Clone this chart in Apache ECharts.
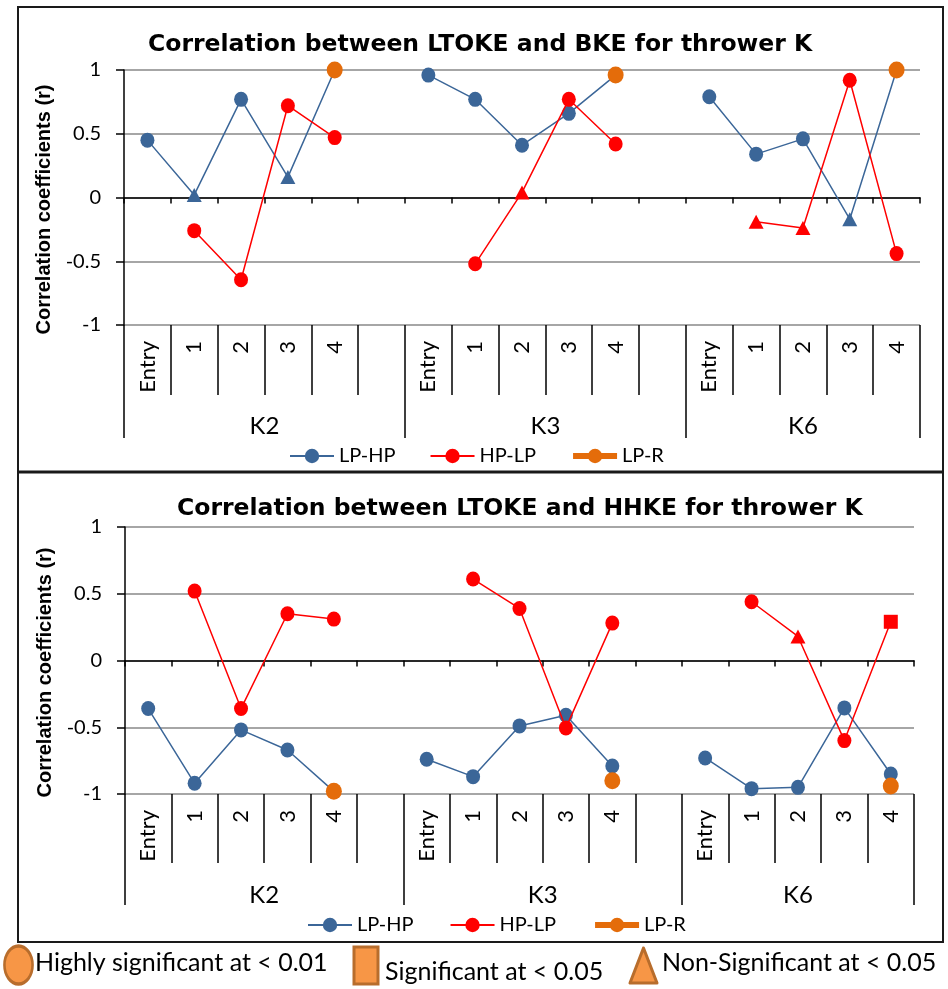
<!DOCTYPE html>
<html>
<head>
<meta charset="utf-8">
<script src="https://cdn.jsdelivr.net/npm/echarts@6/dist/echarts.min.js"></script>
<style>
html,body{margin:0;padding:0;background:#fff;}
#chart{width:948px;height:989px;}
</style>
</head>
<body>
<div id="chart"></div>
<script>
// ---------- data ----------
const categories = ['Entry','1','2','3','4','', 'Entry','1','2','3','4','', 'Entry','1','2','3','4'];
const groupLabels = ['K2','K3','K6'];
const seriesNames = ['LP-HP','HP-LP','LP-R'];
const titleTop = 'Correlation between LTOKE and BKE for thrower K';
const titleBottom = 'Correlation between LTOKE and HHKE for thrower K';
const yAxisName = 'Correlation coefficients (r)';

// Top chart (BKE)
const bkeLPHP = [0.45, 0.02, 0.77, 0.16, 1.00, null, 0.96, 0.77, 0.41, 0.66, 0.96, null, 0.79, 0.34, 0.46, -0.17, 1.00];
const bkeHPLP = [null, -0.26, -0.645, 0.72, 0.47, null, null, -0.52, 0.04, 0.77, 0.42, null, null, -0.19, -0.24, 0.92, -0.44];
const bkeLPR  = [null, null, null, null, 1.00, null, null, null, null, null, 0.96, null, null, null, null, null, 1.00];
// significance: H = highly significant (<0.01), S = significant (<0.05), N = non-significant
const bkeLPHPsig = ['H','N','H','N','H','', 'H','H','H','H','H','', 'H','H','H','N','H'];
const bkeHPLPsig = ['','H','H','H','H','', '','H','N','H','H','', '','N','N','H','H'];

// Bottom chart (HHKE)
const hhkeLPHP = [-0.36, -0.92, -0.52, -0.67, -0.98, null, -0.74, -0.87, -0.49, -0.41, -0.79, null, -0.73, -0.96, -0.95, -0.355, -0.85];
const hhkeHPLP = [null, 0.52, -0.36, 0.35, 0.31, null, null, 0.61, 0.39, -0.505, 0.28, null, null, 0.44, 0.18, -0.60, 0.29];
const hhkeLPR  = [null, null, null, null, -0.98, null, null, null, null, null, -0.90, null, null, null, null, null, -0.94];
const hhkeLPHPsig = ['H','H','H','H','H','', 'H','H','H','H','H','', 'H','H','H','H','H'];
const hhkeHPLPsig = ['','H','H','H','H','', '','H','H','H','H','', '','H','N','H','S'];

const sigLegend = ['Highly significant at < 0.01', 'Significant at < 0.05', 'Non-Significant at < 0.05'];

// ---------- styling ----------
const BLUE = '#3B6698', RED = '#FF0000', ORANGE = '#E46C0A';
const CAL = 'Lato';
const symOf = {H:'circle', S:'rect', N:'triangle'};
const sizeOf = {H:[14,15], S:[14,14], N:[15,14]};

function pts(vals, sig){
  return vals.map((v,i)=>{
    const s = (sig && sig[i]) ? sig[i] : 'H';
    return {value: v, symbol: symOf[s], symbolSize: sizeOf[s]};
  });
}

// group axis: 35 half-steps (boundaryGap false)
const groupAxisData = [];
for (let j=0;j<35;j++) groupAxisData.push('');
groupAxisData[6] = groupLabels[0];
groupAxisData[18] = groupLabels[1];
groupAxisData[29] = groupLabels[2];
const groupTicks = [0,12,24,34];

function xAxesFor(g, sepLen, grpLen){
  return [
    { // axis line at zero with short ticks
      type:'category', gridIndex:g, data:categories, position:'bottom',
      axisLine:{onZero:true, lineStyle:{color:'#000', width:1.5}},
      axisTick:{show:true, interval:0, length:6, lineStyle:{color:'#000', width:1.5}},
      axisLabel:{show:false}, splitLine:{show:false}
    },
    { // category labels with separators
      type:'category', gridIndex:g, data:categories, position:'bottom',
      axisLine:{show:false, onZero:false},
      axisTick:{show:true, interval:0, length:sepLen, lineStyle:{color:'#000', width:1.5}},
      axisLabel:{show:true, interval:0, rotate:90, margin:16, fontFamily:CAL, fontSize:22, color:'#000'},
      splitLine:{show:false}
    },
    { // group labels
      type:'category', gridIndex:g, data:groupAxisData, boundaryGap:false, position:'bottom',
      axisLine:{show:false, onZero:false},
      axisTick:{show:true, interval:(i)=>groupTicks.indexOf(i)>=0, length:grpLen, lineStyle:{color:'#000', width:1.5}},
      axisLabel:{show:true, interval:0, margin:101, verticalAlign:'middle', fontFamily:CAL, fontSize:24, color:'#000'},
      splitLine:{show:false}
    }
  ];
}

function yAxisFor(g){
  return {
    type:'value', gridIndex:g, min:-1, max:1, interval:0.5,
    axisLine:{show:true, lineStyle:{color:'#000', width:1.5}},
    axisTick:{show:true, length:8, lineStyle:{color:'#000', width:1.5}},
    axisLabel:{margin:23, fontFamily:CAL, fontSize:20, color:'#000'},
    splitLine:{show:true, lineStyle:{color:'#A6A6A6', width:2}},
    name:yAxisName, nameLocation:'middle', nameGap:70,
    nameTextStyle:{fontFamily:'Liberation Sans', fontWeight:'bold', fontSize:20, color:'#000', padding:[0,24,0,0]}
  };
}

function seriesFor(g, lphp, lphpSig, hplp, hplpSig, lpr){
  const xi = g*3, yi = g;
  return [
    {name:seriesNames[0], type:'line', xAxisIndex:xi, yAxisIndex:yi, data:pts(lphp, lphpSig),
     color:BLUE, lineStyle:{color:BLUE, width:1.5}, itemStyle:{color:BLUE}, symbol:'circle', symbolSize:14,
     showAllSymbol:true, connectNulls:false, animation:false, z:2},
    {name:seriesNames[1], type:'line', xAxisIndex:xi, yAxisIndex:yi, data:pts(hplp, hplpSig),
     color:RED, lineStyle:{color:RED, width:1.5}, itemStyle:{color:RED}, symbol:'circle', symbolSize:14,
     showAllSymbol:true, connectNulls:false, animation:false, z:3},
    {name:seriesNames[2], type:'line', xAxisIndex:xi, yAxisIndex:yi,
     data:lpr.map(v=>({value:v, symbol:'circle', symbolSize:[16,17]})),
     color:ORANGE, lineStyle:{color:ORANGE, width:5}, itemStyle:{color:ORANGE}, symbol:'circle', symbolSize:16,
     showAllSymbol:true, connectNulls:false, animation:false, z:4}
  ];
}

const legendData = [
  {name:seriesNames[0], lineStyle:{width:2}},
  {name:seriesNames[1], lineStyle:{width:2}},
  {name:seriesNames[2], lineStyle:{width:6}}
];

const chart = echarts.init(document.getElementById('chart'), null, {renderer:'canvas'});

const option = {
  backgroundColor:'#fff',
  animation:false,
  title:[
    {text:titleTop, left:143, top:28, textStyle:{fontFamily:'DejaVu Sans', fontWeight:'bold', fontSize:23.5, color:'#000'}},
    {text:titleBottom, left:172, top:492, textStyle:{fontFamily:'DejaVu Sans', fontWeight:'bold', fontSize:23.5, color:'#000'}}
  ],
  legend:[
    {data:legendData, left:284, top:441, itemWidth:44, itemHeight:18, itemGap:34,
     textStyle:{fontFamily:CAL, fontSize:20, color:'#000'}},
    {data:legendData, left:302, top:910, itemWidth:44, itemHeight:18, itemGap:36,
     textStyle:{fontFamily:CAL, fontSize:20, color:'#000'}}
  ],
  grid:[
    {left:124, right:28, top:70, height:255},
    {left:125, right:34, top:527, height:267}
  ],
  xAxis: xAxesFor(0, 70, 113).concat(xAxesFor(1, 69, 111)),
  yAxis: [yAxisFor(0), yAxisFor(1)],
  series: seriesFor(0, bkeLPHP, bkeLPHPsig, bkeHPLP, bkeHPLPsig, bkeLPR)
          .concat(seriesFor(1, hhkeLPHP, hhkeLPHPsig, hhkeHPLP, hhkeHPLPsig, hhkeLPR)),
  graphic:[
    {type:'rect', shape:{x:18, y:7, width:925, height:935}, style:{fill:null, stroke:'#1a1a1a', lineWidth:2}, silent:true},
    {type:'line', shape:{x1:18, y1:472, x2:943, y2:472}, style:{stroke:'#1a1a1a', lineWidth:3}, silent:true},
    // significance key
    {type:'circle', shape:{cx:0, cy:0, r:19}, x:18.5, y:965, scaleX:0.74, style:{fill:'#F79646', stroke:'#B86D2C', lineWidth:3.5}, silent:true},
    {type:'text', x:35, y:963, style:{text:sigLegend[0], fontFamily:CAL, fontSize:25, fill:'#000', verticalAlign:'middle'}, silent:true},
    {type:'rect', shape:{x:354, y:947, width:24, height:37}, style:{fill:'#F79646', stroke:'#B86D2C', lineWidth:3}, silent:true},
    {type:'text', x:385, y:972, style:{text:sigLegend[1], fontFamily:CAL, fontSize:25, fill:'#000', verticalAlign:'middle'}, silent:true},
    {type:'polygon', shape:{points:[[643.5,948],[630,983],[657,983]]}, style:{fill:'#F79646', stroke:'#B86D2C', lineWidth:3, lineJoin:'round'}, silent:true},
    {type:'text', x:662, y:963, style:{text:sigLegend[2], fontFamily:CAL, fontSize:25, fill:'#000', verticalAlign:'middle'}, silent:true}
  ]
};
chart.setOption(option);
</script>
</body>
</html>
